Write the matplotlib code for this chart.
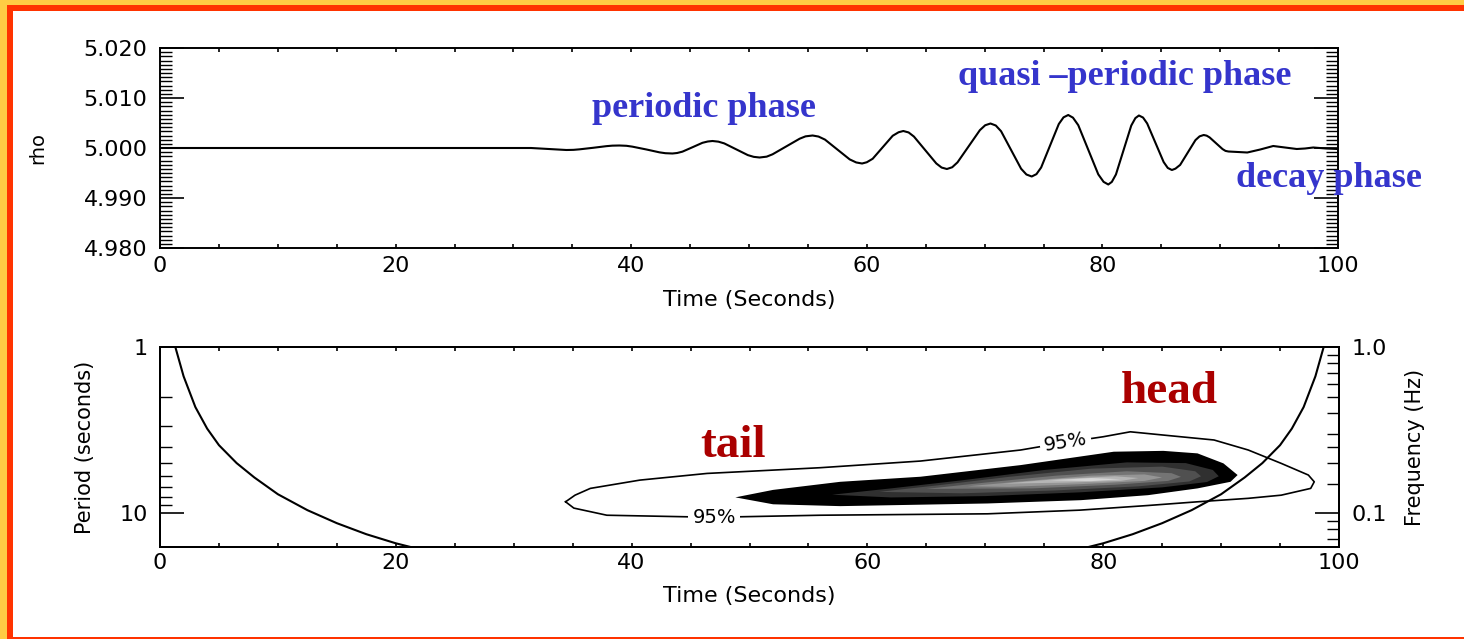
import numpy as np
import matplotlib
matplotlib.use('Agg')
import matplotlib.pyplot as plt
from matplotlib.patches import Rectangle
from matplotlib.ticker import FixedLocator, MultipleLocator, NullFormatter

# ---- top panel: density time series ----
t_rho = [0, 31.5, 33.0, 34.5,
         35.1, 35.6, 36.8, 37.9, 38.4, 39.0,
         39.6, 40.1, 41.3, 42.4, 42.9, 43.5,
         43.9, 44.35, 45.2, 46.05, 46.5, 46.9,
         47.4, 47.9, 48.9, 49.9, 50.4, 50.9,
         51.5, 52.0, 53.15, 54.3, 54.8, 55.4,
         55.9, 56.45, 57.5, 58.55, 59.1, 59.6,
         60.0, 60.5, 61.35, 62.2, 62.7, 63.1,
         63.55, 64.0, 64.95, 65.9, 66.35, 66.8,
         67.25, 67.7, 68.65, 69.6, 70.05, 70.5,
         70.95, 71.4, 72.25, 73.1, 73.55, 74.0,
         74.4, 74.8, 75.55, 76.3, 76.7, 77.1,
         77.5, 77.95, 78.8, 79.65, 80.1, 80.5,
         80.8, 81.15, 81.8, 82.45, 82.8, 83.1,
         83.45, 83.8, 84.5, 85.2, 85.55, 85.9,
         86.2, 86.6, 87.25, 87.9, 88.25, 88.6,
         88.85, 89.1, 89.65, 90.2, 90.45, 90.7,
         91.5, 92.3, 93.4, 94.5, 95.5, 96.5, 97.2, 97.9, 99.0, 100]
rho = [5.0000, 5.0000, 4.9998, 4.9996,
       4.99963, 4.99973, 5.00005, 5.00037, 5.00047, 5.0005,
       5.00044, 5.00027, 4.99970, 4.99913, 4.99896, 4.9989,
       4.99900, 4.99927, 5.00015, 5.00104, 5.00130, 5.0014,
       5.00127, 5.00092, 4.99975, 4.99858, 4.99823, 4.9981,
       4.99827, 4.99874, 5.00030, 5.00186, 5.00233, 5.0025,
       5.00229, 5.00168, 4.99970, 4.99772, 4.99711, 4.9969,
       4.99715, 4.99785, 5.00015, 5.00245, 5.00315, 5.0034,
       5.00311, 5.00229, 4.99960, 4.99691, 4.99609, 4.9958,
       4.99615, 4.99713, 5.00035, 5.00357, 5.00455, 5.0049,
       5.00450, 5.00335, 4.99960, 4.99585, 4.99470, 4.9943,
       4.99477, 4.99610, 5.00045, 5.00480, 5.00613, 5.0066,
       5.00607, 5.00457, 4.99965, 4.99473, 4.99323, 4.9927,
       4.99322, 4.99471, 4.99960, 5.00449, 5.00598, 5.0065,
       5.00609, 5.00491, 5.00105, 4.99719, 4.99601, 4.9956,
       4.99587, 4.99662, 4.99910, 5.00158, 5.00233, 5.0026,
       5.00247, 5.00212, 5.00095, 4.99978, 4.99942, 4.9993,
       4.9992, 4.9991, 4.9997, 5.0004, 5.0001, 4.9998, 4.9999, 5.0001, 4.9999, 4.9998]

# ---- bottom panel: cone of influence ----
coi_t_left = [1.3, 2.0, 3.0, 4.0, 5.0, 6.5, 8.0, 10.0, 12.5, 15.0, 17.5, 20.0, 22.0]
coi_p_left = [1.0, 1.5, 2.3, 3.1, 3.9, 5.0, 6.1, 7.7, 9.6, 11.5, 13.4, 15.2, 16.5]
coi_t_right = [98.7, 98.0, 97.0, 96.0, 95.0, 93.5, 92.0, 90.0, 87.5, 85.0, 82.5, 80.0, 78.0]
coi_p_right = [1.0, 1.5, 2.3, 3.1, 3.9, 5.0, 6.1, 7.7, 9.6, 11.5, 13.4, 15.2, 16.5]

# 95% significance contour
sig_t = [34.4, 35.2, 36.5, 40.7, 46.4, 52.0, 56.0, 64.5, 73.0, 76.8, 80.0, 82.3, 85.1,
         89.4, 92.3, 95.1, 97.4, 97.9, 97.6, 95.1, 92.3, 88.0, 83.8, 78.0, 70.2, 56.0,
         46.9, 37.9, 35.1, 34.4]
sig_p = [8.55, 7.8, 7.1, 6.33, 5.77, 5.51, 5.33, 4.86, 4.17, 3.75, 3.47, 3.24, 3.39,
         3.63, 4.17, 5.02, 5.9, 6.48, 7.1, 7.8, 8.15, 8.55, 9.0, 9.6, 10.1, 10.3,
         10.6, 10.3, 9.33, 8.55]

# filled power levels, outer (black) to inner (light)
lev0_t = [48.8, 52.0, 57.7, 64.5, 73.0, 80.9, 85.1, 88.0, 90.2, 91.4, 90.8, 88.0, 83.8, 78.1, 70.2, 57.7, 52.0]
lev0_p = [8.04, 7.25, 6.48, 6.04, 5.14, 4.27, 4.22, 4.37, 5.02, 5.9, 6.48, 7.1, 7.8, 8.36, 8.75, 9.08, 8.85]
lev1_t = [57.0, 62.0, 68.0, 75.0, 82.0, 87.0, 89.3, 89.8, 88.8, 85.0, 78.0, 70.0, 62.0]
lev1_p = [7.75, 7.1, 6.35, 5.5, 4.95, 5.0, 5.5, 6.0, 6.5, 7.0, 7.5, 7.9, 8.05]
lev2_t = [61.0, 66.0, 72.0, 79.0, 85.0, 87.8, 88.3, 87.3, 83.0, 76.0, 68.0]
lev2_p = [7.45, 6.8, 6.05, 5.4, 5.25, 5.6, 6.0, 6.45, 6.9, 7.3, 7.6]
lev3_t = [65.0, 70.0, 76.0, 82.0, 85.8, 86.6, 85.5, 81.0, 74.0]
lev3_p = [7.15, 6.55, 5.95, 5.6, 5.75, 6.05, 6.4, 6.75, 7.1]
lev4_t = [68.5, 73.0, 79.0, 83.5, 85.0, 83.5, 78.0, 72.0]
lev4_p = [6.9, 6.45, 5.95, 5.85, 6.1, 6.4, 6.7, 6.95]
lev5_t = [71.5, 76.0, 81.0, 83.0, 81.5, 77.0]
lev5_p = [6.65, 6.25, 6.0, 6.15, 6.4, 6.55]
lev6_t = [75.5, 79.0, 81.5, 79.0]
lev6_p = [6.35, 6.15, 6.25, 6.42]
levels = [(lev0_t, lev0_p, '#000000'), (lev1_t, lev1_p, '#303030'),
          (lev2_t, lev2_p, '#505050'), (lev3_t, lev3_p, '#747474'),
          (lev4_t, lev4_p, '#959595'), (lev5_t, lev5_p, '#b5b5b5'),
          (lev6_t, lev6_p, '#d5d5d5')]

xticks = [0, 20, 40, 60, 80, 100]
rho_ticks = [4.980, 4.990, 5.000, 5.010, 5.020]
freq_minor = [0.07, 0.08, 0.09, 0.15, 0.2, 0.25, 0.3, 0.4, 0.5, 0.6, 0.7, 0.8, 0.9]

plt.rcParams['font.family'] = 'DejaVu Sans'
fig = plt.figure(figsize=(14.64, 6.39), dpi=100)
fig.patch.set_facecolor('#FFCC44')

# frame around the slide
fig.add_artist(Rectangle((7/1464, -0.1), 1.2, 1.1 - 5/639, transform=fig.transFigure,
                         facecolor='#FF3300', edgecolor='none', zorder=-10))
fig.add_artist(Rectangle((13/1464, 2/639), 1.2, 1 - 13/639, transform=fig.transFigure,
                         facecolor='white', edgecolor='none', zorder=-9))

tick_font = 16
blue = '#3535CC'
darkred = '#AA0000'
serif = ['Liberation Serif', 'DejaVu Serif']

# ---------------- top panel ----------------
ax1 = fig.add_axes([160/1464, 1 - 248/639, 1178/1464, 200/639])
ax1.plot(t_rho, rho, color='black', lw=1.5, solid_joinstyle='round')
ax1.set_xlim(0, 100)
ax1.set_ylim(4.98, 5.02)
ax1.set_xticks(xticks)
ax1.xaxis.set_minor_locator(MultipleLocator(5))
ax1.set_yticks(rho_ticks)
ax1.set_yticklabels(['%.3f' % v for v in rho_ticks])
ax1.yaxis.set_minor_locator(MultipleLocator(0.01 / 12))
ax1.tick_params(axis='x', which='both', direction='in', top=True, length=3, width=1.2,
                labelsize=tick_font, pad=6)
ax1.tick_params(axis='y', which='major', direction='in', right=True, length=17, width=1.2,
                labelsize=tick_font, pad=9)
ax1.tick_params(axis='y', which='minor', direction='in', right=True, length=8.5, width=1.0)
ax1.set_xlabel('Time (Seconds)', fontsize=tick_font)
ax1.xaxis.set_label_coords(0.5, -0.21)
ax1.set_ylabel('rho', fontsize=tick_font - 2)
ax1.yaxis.set_label_coords(-0.096, 0.5)
for s in ax1.spines.values():
    s.set_linewidth(1.4)

ax1.text(36.7, 5.0062, 'periodic phase', color=blue, fontsize=26, fontweight='bold',
         family=serif, clip_on=False)
ax1.text(67.7, 5.0126, 'quasi \u2013periodic phase', color=blue, fontsize=26,
         fontweight='bold', family=serif, clip_on=False)
ax1.text(91.3, 4.9922, 'decay phase', color=blue, fontsize=26, fontweight='bold',
         family=serif, clip_on=False, zorder=5)

# ---------------- bottom panel ----------------
ax2 = fig.add_axes([160/1464, 1 - 547/639, 1179/1464, 200/639])
for lt, lp, col in levels:
    ax2.fill(lt, lp, color=col, edgecolor='none')
ax2.plot(sig_t, sig_p, color='black', lw=1.2)
ax2.plot(coi_t_left, coi_p_left, color='black', lw=1.5)
ax2.plot(coi_t_right, coi_p_right, color='black', lw=1.5)
ax2.text(47.0, 10.6, '95%', fontsize=14, ha='center', va='center',
         bbox=dict(facecolor='white', edgecolor='none', pad=3))
ax2.text(76.8, 3.74, '95%', fontsize=14, ha='center', va='center', rotation=9,
         bbox=dict(facecolor='white', edgecolor='none', pad=3))

ax2.set_yscale('log')
ax2.set_xlim(0, 100)
ax2.set_ylim(16.0, 1.0)
ax2.set_xticks(xticks)
ax2.xaxis.set_minor_locator(MultipleLocator(5))
ax2.yaxis.set_major_locator(FixedLocator([1, 10]))
ax2.set_yticklabels(['1', '10'])
ax2.yaxis.set_minor_locator(FixedLocator([2, 3, 4, 5, 6, 7, 8, 9]))
ax2.yaxis.set_minor_formatter(NullFormatter())
ax2.tick_params(axis='x', which='both', direction='in', top=True, length=3, width=1.2,
                labelsize=tick_font, pad=4)
ax2.tick_params(axis='y', which='major', direction='in', length=17, width=1.2,
                labelsize=tick_font, pad=9)
ax2.tick_params(axis='y', which='minor', direction='in', length=8.5, width=1.0)
ax2.set_xlabel('Time (Seconds)', fontsize=tick_font)
ax2.xaxis.set_label_coords(0.5, -0.195)
ax2.set_ylabel('Period (seconds)', fontsize=tick_font - 1)
ax2.yaxis.set_label_coords(-0.055, 0.5)
for s in ax2.spines.values():
    s.set_linewidth(1.4)

ax3 = ax2.twinx()
ax3.set_yscale('log')
ax3.set_ylim(1 / 16.0, 1.0)
ax3.yaxis.set_major_locator(FixedLocator([0.1, 1.0]))
ax3.set_yticklabels(['0.1', '1.0'])
ax3.yaxis.set_minor_locator(FixedLocator(freq_minor))
ax3.yaxis.set_minor_formatter(NullFormatter())
ax3.tick_params(axis='y', which='major', direction='in', length=17, width=1.2,
                labelsize=tick_font, pad=9)
ax3.tick_params(axis='y', which='minor', direction='in', length=8.5, width=1.0)
ax3.set_ylabel('Frequency (Hz)', fontsize=tick_font - 1, rotation=90)
ax3.yaxis.set_label_coords(1.056, 0.5)
for s in ax3.spines.values():
    s.set_linewidth(1.4)

ax2.text(45.8, 4.6, 'tail', color=darkred, fontsize=34, fontweight='bold',
         family=serif, clip_on=False)
ax2.text(81.5, 2.17, 'head', color=darkred, fontsize=34, fontweight='bold',
         family=serif, clip_on=False)

fig.savefig('out.png', dpi=100, facecolor=fig.get_facecolor())
